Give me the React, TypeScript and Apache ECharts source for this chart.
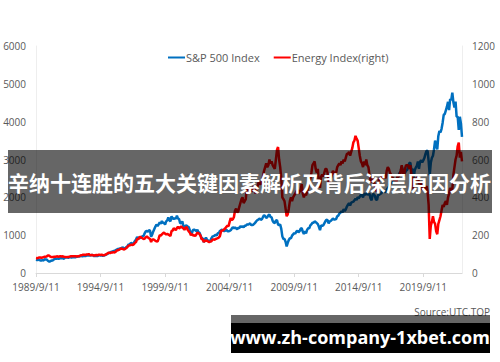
import React, { useEffect, useRef } from "react";
import * as echarts from "echarts";

// Monthly observations starting 1989/9/11
const START_YEAR = 1989;
const START_MONTH = 9;

// S&P 500 Index (left axis)
const spx: number[] = [
  349, 341, 346, 353,
  330, 331, 340, 331, 361, 358, 356, 323, 306, 304, 322, 330,
  343, 367, 375, 375, 390, 371, 387, 395, 388, 392, 375, 417,
  408, 412, 404, 414, 415, 408, 424, 414, 418, 419, 431, 436,
  439, 443, 452, 440, 450, 451, 448, 464, 459, 468, 462, 466,
  481, 467, 446, 451, 457, 444, 458, 475, 462, 472, 454, 459,
  470, 487, 501, 515, 533, 545, 562, 562, 584, 582, 605, 616,
  636, 640, 645, 654, 669, 671, 640, 652, 687, 705, 757, 741,
  786, 791, 757, 801, 848, 885, 954, 899, 947, 915, 955, 970,
  980, 1049, 1101, 1112, 1091, 1134, 1121, 957, 1017, 1098, 1164, 1229,
  1280, 1238, 1286, 1335, 1302, 1373, 1329, 1320, 1283, 1363, 1389, 1469,
  1394, 1366, 1499, 1452, 1421, 1455, 1431, 1518, 1437, 1429, 1315, 1320,
  1366, 1240, 1160, 1249, 1256, 1224, 1211, 1134, 1041, 1060, 1139, 1148,
  1130, 1107, 1147, 1077, 1067, 990, 912, 916, 815, 886, 936, 880,
  856, 841, 848, 917, 964, 975, 990, 1008, 996, 1051, 1058, 1112,
  1131, 1145, 1126, 1107, 1121, 1141, 1102, 1104, 1115, 1130, 1174, 1212,
  1181, 1204, 1181, 1157, 1192, 1191, 1234, 1220, 1229, 1207, 1249, 1248,
  1280, 1281, 1295, 1311, 1270, 1270, 1277, 1304, 1336, 1378, 1401, 1418,
  1438, 1407, 1421, 1482, 1531, 1503, 1455, 1474, 1527, 1549, 1481, 1468,
  1379, 1331, 1323, 1386, 1400, 1280, 1267, 1283, 1166, 969, 896, 903,
  826, 700, 798, 873, 919, 919, 987, 1021, 1057, 1036, 1096, 1115,
  1074, 1104, 1169, 1187, 1089, 1031, 1102, 1049, 1141, 1183, 1181, 1258,
  1286, 1327, 1326, 1364, 1345, 1321, 1292, 1219, 1131, 1253, 1247, 1258,
  1312, 1366, 1408, 1398, 1310, 1362, 1379, 1407, 1441, 1412, 1416, 1426,
  1498, 1515, 1569, 1598, 1631, 1606, 1686, 1633, 1682, 1757, 1806, 1848,
  1783, 1859, 1872, 1884, 1924, 1960, 1931, 2003, 1972, 2018, 2068, 2059,
  1995, 2104, 2068, 2086, 2107, 2063, 2104, 1972, 1920, 2079, 2080, 2044,
  1940, 1932, 2060, 2065, 2097, 2099, 2174, 2171, 2168, 2126, 2199, 2239,
  2279, 2364, 2363, 2384, 2412, 2423, 2470, 2472, 2519, 2575, 2648, 2674,
  2824, 2714, 2641, 2648, 2705, 2718, 2816, 2902, 2914, 2711, 2760, 2507,
  2704, 2784, 2834, 2946, 2752, 2942, 2980, 2926, 2977, 3038, 3141, 3231,
  3226, 2954, 2585, 2912, 3044, 3100, 3271, 3500, 3363, 3270, 3622, 3756,
  3714, 3811, 3973, 4181, 4204, 4298, 4395, 4523, 4308, 4605, 4567, 4766,
  4516, 4374, 4530, 4132, 4132, 3785, 4130, 3955, 3600,
];

// Energy Index (right axis)
const energy: number[] = [
  79, 78, 80, 82,
  82, 80, 82, 84, 86, 86, 88, 92, 92, 88, 85, 84,
  84, 86, 86, 87, 88, 86, 88, 88, 87, 88, 86, 85,
  84, 85, 84, 86, 88, 88, 89, 88, 89, 88, 87, 88,
  89, 92, 94, 95, 97, 96, 95, 98, 98, 100, 96, 94,
  96, 94, 92, 94, 95, 94, 96, 96, 95, 97, 94, 94,
  96, 98, 102, 106, 108, 106, 108, 108, 110, 108, 112, 118,
  120, 122, 126, 130, 128, 126, 124, 128, 132, 138, 144, 146,
  148, 150, 148, 152, 160, 164, 180, 178, 188, 192, 186, 184,
  180, 182, 188, 194, 188, 184, 180, 164, 176, 178, 174, 170,
  168, 166, 182, 200, 198, 204, 210, 214, 208, 204, 206, 204,
  200, 196, 222, 224, 236, 232, 226, 238, 244, 236, 240, 246,
  240, 236, 228, 238, 244, 228, 220, 214, 200, 206, 198, 200,
  196, 204, 214, 210, 206, 196, 178, 178, 164, 170, 172, 170,
  166, 164, 166, 168, 176, 178, 176, 180, 182, 184, 188, 196,
  220, 226, 224, 232, 236, 244, 250, 248, 270, 290, 280, 284,
  296, 330, 340, 320, 326, 350, 370, 390, 400, 370, 380, 390,
  455, 420, 430, 450, 440, 430, 460, 450, 420, 440, 460, 480,
  470, 470, 490, 510, 540, 560, 580, 560, 570, 600, 580, 590,
  570, 560, 550, 600, 650, 666, 600, 560, 500, 400, 390, 380,
  340, 300, 310, 340, 380, 400, 380, 400, 410, 420, 430, 440,
  420, 430, 440, 470, 420, 400, 420, 410, 430, 450, 480, 500,
  530, 570, 580, 590, 550, 530, 550, 470, 450, 510, 520, 510,
  530, 550, 550, 530, 480, 480, 500, 520, 540, 530, 520, 530,
  560, 570, 580, 570, 590, 580, 600, 590, 610, 630, 630, 640,
  620, 640, 660, 690, 700, 725, 710, 700, 660, 620, 590, 580,
  560, 590, 570, 600, 570, 560, 520, 490, 480, 500, 490, 460,
  440, 430, 470, 500, 500, 510, 500, 510, 510, 500, 540, 560,
  550, 530, 520, 510, 500, 490, 500, 480, 510, 510, 520, 540,
  570, 520, 510, 550, 570, 570, 570, 550, 570, 520, 510, 440,
  480, 500, 500, 510, 470, 480, 470, 440, 450, 450, 440, 460,
  430, 360, 180, 250, 270, 300, 270, 260, 220, 205, 260, 280,
  300, 330, 360, 350, 370, 380, 360, 400, 420, 450, 440, 440,
  520, 560, 600, 620, 670, 690, 610, 640, 590,
];

const categories: string[] = spx.map((_, i) => {
  const m = START_MONTH - 1 + i;
  return `${START_YEAR + Math.floor(m / 12)}/${(m % 12) + 1}/11`;
});

const SERIES_NAMES = ["S&P 500 Index", "Energy Index(right)"];
const TITLE = "辛纳十连胜的五大关键因素解析及背后深层原因分析";
const SOURCE = "Source:UTC.TOP";
const SITE = "www.zh-company-1xbet.com";

const FONT = "'Open Sans', 'Noto Sans', sans-serif";
const GREY = "#595959";
const AXIS = "#d9d9d9";

export default function App() {
  const ref = useRef<HTMLDivElement>(null);
  useEffect(() => {
    if (!ref.current) return;
    const chart = echarts.init(ref.current, null, { renderer: "svg" });
    const plain = (v: number) => String(v);
    chart.setOption({
      animation: false,
      backgroundColor: "#ffffff",
      grid: { left: 36, right: 38, top: 46, bottom: 89 },
      legend: {
        top: 47,
        left: 163,
        icon: "rect",
        itemWidth: 17,
        itemHeight: 2,
        itemGap: 14,
        textStyle: { color: GREY, fontSize: 11, fontFamily: FONT, padding: [0, 0, 0, -4] },
        data: SERIES_NAMES,
      },
      xAxis: {
        type: "category",
        data: categories,
        boundaryGap: false,
        axisLine: { lineStyle: { color: AXIS } },
        axisTick: { interval: 59, length: 4, lineStyle: { color: AXIS } },
        axisLabel: { interval: 59, color: GREY, fontSize: 10, fontFamily: FONT, margin: 9 },
        splitLine: { show: false },
      },
      yAxis: [
        {
          type: "value",
          min: 0,
          max: 6000,
          interval: 1000,
          axisLine: { show: true, lineStyle: { color: "#eeeeee" } },
          axisTick: { show: false },
          splitLine: { show: false },
          axisLabel: { color: GREY, fontSize: 10, fontFamily: FONT, margin: 10, formatter: plain },
        },
        {
          type: "value",
          min: 0,
          max: 1200,
          interval: 200,
          position: "right",
          axisLine: { show: true, lineStyle: { color: "#eeeeee" } },
          axisTick: { show: false },
          splitLine: { show: false },
          axisLabel: { color: GREY, fontSize: 10, fontFamily: FONT, margin: 10, formatter: plain },
        },
      ],
      series: [
        {
          name: SERIES_NAMES[0],
          type: "line",
          data: spx,
          showSymbol: false,
          symbol: "none",
          color: "#0070C0",
          lineStyle: { width: 2.5, color: "#0070C0" },
        },
        {
          name: SERIES_NAMES[1],
          type: "line",
          yAxisIndex: 1,
          data: energy,
          showSymbol: false,
          symbol: "none",
          color: "#FF0000",
          lineStyle: { width: 2.5, color: "#FF0000" },
        },
      ],
      graphic: [
        {
          type: "rect",
          z: 100,
          shape: { x: 8, y: 150, width: 484, height: 63 },
          style: { fill: "rgba(0,0,0,0.6)" },
        },
        {
          type: "text",
          z: 101,
          x: 8,
          y: 182,
          style: {
            text: TITLE,
            fill: "#ffffff",
            fontSize: 21,
            fontWeight: "bold",
            fontFamily: "'Noto Sans CJK SC', sans-serif",
            verticalAlign: "middle",
          },
        },
        {
          type: "text",
          z: 100,
          x: 490,
          y: 312,
          style: {
            text: SOURCE,
            fill: GREY,
            fontSize: 10,
            fontFamily: FONT,
            align: "right",
            verticalAlign: "middle",
          },
        },
        {
          type: "rect",
          z: 101,
          shape: { x: 231, y: 315, width: 259, height: 8 },
          style: { fill: "rgba(0,0,0,0.6)" },
        },
        {
          type: "rect",
          z: 101,
          shape: { x: 231, y: 323, width: 259, height: 30 },
          style: { fill: "#000000" },
        },
        {
          type: "text",
          z: 102,
          x: 360,
          y: 337,
          style: {
            text: SITE,
            fill: "#ffffff",
            fontSize: 18,
            fontWeight: "bold",
            fontFamily: "'Open Sans', 'Noto Sans', sans-serif",
            align: "center",
            verticalAlign: "middle",
          },
        },
      ],
    });
    return () => chart.dispose();
  }, []);
  return (
    <div
      ref={ref}
      style={{ position: "fixed", left: 0, top: 0, width: 500, height: 362 }}
    />
  );
}
